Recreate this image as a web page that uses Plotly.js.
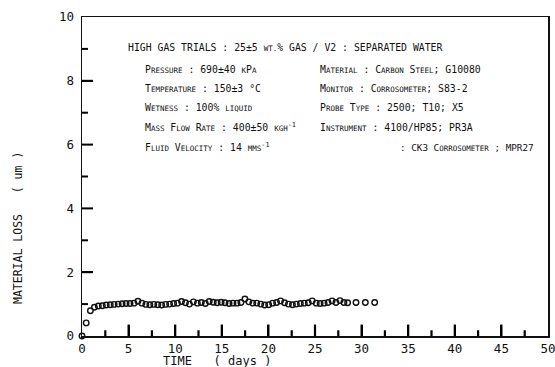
<!DOCTYPE html>
<html>
<head>
<meta charset="utf-8">
<script src="https://cdn.plot.ly/plotly-3.0.1.min.js"></script>
<style>html,body{margin:0;padding:0;background:#fff;}#chart{width:555px;height:367px;}</style>
</head>
<body>
<div id="chart"></div>
<script>
// Time (days) of each reading
const timeDays = [0, 0.45, 0.9, 1.33, 1.75, 2.18, 2.6, 3.03, 3.45, 3.88, 4.3, 4.73, 5.15, 5.58, 6.0, 6.43, 6.85, 7.28, 7.7, 8.13, 8.55, 8.98, 9.4, 9.83, 10.25, 10.68, 11.1, 11.53, 11.95, 12.38, 12.8, 13.23, 13.65, 14.08, 14.5, 14.93, 15.35, 15.78, 16.2, 16.63, 17.05, 17.48, 17.9, 18.33, 18.75, 19.18, 19.6, 20.03, 20.45, 20.88, 21.3, 21.73, 22.15, 22.58, 23.0, 23.43, 23.85, 24.28, 24.7, 25.13, 25.55, 25.98, 26.4, 26.83, 27.25, 27.68, 28.1, 28.5, 29.4, 30.4, 31.4];
// Material loss (um)
const materialLoss = [0, 0.41, 0.79, 0.9, 0.94, 0.95, 0.97, 0.98, 0.99, 1.0, 1.01, 1.02, 1.02, 1.03, 1.09, 1.03, 0.99, 0.98, 0.99, 0.98, 0.97, 0.99, 1.0, 1.02, 1.03, 1.08, 1.04, 1.0, 1.07, 1.03, 1.05, 1.02, 1.08, 1.06, 1.04, 1.06, 1.04, 1.02, 1.03, 1.03, 1.05, 1.16, 1.07, 1.03, 1.03, 1.0, 0.97, 0.98, 1.03, 1.05, 1.1, 1.04, 1.0, 0.98, 1.0, 1.02, 1.03, 1.04, 1.1, 1.03, 1.02, 1.03, 1.05, 1.1, 1.05, 1.11, 1.05, 1.04, 1.05, 1.05, 1.05];

// Tick positions
const xMajorTicks = [5, 10, 15, 20, 25, 30, 35, 40, 45];
const xMinorTicks = [2.5, 7.5, 12.5, 17.5, 22.5, 27.5, 32.5, 37.5, 42.5, 47.5];
const yMajorTicks = [2, 4, 6, 8];
const yMinorTicks = [1, 3, 5, 7, 9];

const sc = s => '<span style="font-size:7.5px">' + s + '</span>';
const headerText = 'HIGH GAS TRIALS : 25±5 ' + sc('WT.') + '% GAS / V2 : SEPARATED WATER';
const leftColumn = [
  'P' + sc('RESSURE') + ' : 690±40 ' + sc('K') + 'P' + sc('A'),
  'T' + sc('EMPERATURE') + ' : 150±3 °C',
  'W' + sc('ETNESS') + ' : 100% ' + sc('LIQUID'),
  'M' + sc('ASS') + ' F' + sc('LOW') + ' R' + sc('ATE') + ' : 400±50 ' + sc('KGH') + '<sup>-1</sup>',
  'F' + sc('LUID') + ' V' + sc('ELOCITY') + ' : 14 ' + sc('MMS') + '<sup>-1</sup>'
];
const rightColumn = [
  'M' + sc('ATERIAL') + ' : C' + sc('ARBON') + ' S' + sc('TEEL') + '; G10080',
  'M' + sc('ONITOR') + ' : C' + sc('ORROSOMETER') + '; S83-2',
  'P' + sc('ROBE') + ' T' + sc('YPE') + ' : 2500; T10; X5',
  'I' + sc('NSTRUMENT') + ' : 4100/HP85; PR3A'
];
const lastLine = ': CK3 C' + sc('ORROSOMETER') + ' ; MPR27';
const xTitle = 'TIME\u00a0\u00a0\u00a0( days )';
const yTitle = 'MATERIAL LOSS\u00a0\u00a0\u00a0( um )';

const FONT = 'DejaVu Sans Mono, Liberation Mono, monospace';
const rowY = [8.34, 7.77, 7.15, 6.55, 5.92];
const txtFont = {family: FONT, size: 9.8, color: '#111'};

const annotations = [];
annotations.push({x: 4.7, y: 9.03, xref: 'x', yref: 'y', text: headerText, showarrow: false, xanchor: 'left', yanchor: 'middle', font: txtFont});
leftColumn.forEach((t, i) => annotations.push({x: 6.55, y: rowY[i], xref: 'x', yref: 'y', text: t, showarrow: false, xanchor: 'left', yanchor: 'middle', font: txtFont}));
rightColumn.forEach((t, i) => annotations.push({x: 25.3, y: rowY[i], xref: 'x', yref: 'y', text: t, showarrow: false, xanchor: 'left', yanchor: 'middle', font: txtFont}));
annotations.push({x: 33.9, y: rowY[4], xref: 'x', yref: 'y', text: lastLine, showarrow: false, xanchor: 'left', yanchor: 'middle', font: {family: FONT, size: 9.3, color: '#111'}});
annotations.push({x: 0.289, y: -0.078, xref: 'paper', yref: 'paper', text: xTitle, showarrow: false, xanchor: 'center', yanchor: 'middle', font: {family: FONT, size: 12, color: '#111'}});
annotations.push({x: -0.137, y: 0.339, xref: 'paper', yref: 'paper', text: yTitle, showarrow: false, textangle: -90, xanchor: 'center', yanchor: 'middle', font: {family: FONT, size: 11.5, color: '#111'}});

// Inward tick marks drawn as shapes anchored on the axes
const tickLine = {color: '#000', width: 2};
const shapes = [];
yMajorTicks.forEach(t => shapes.push({type: 'line', xref: 'x', yref: 'y', y0: t, y1: t, xsizemode: 'pixel', xanchor: 0, x0: 0, x1: 11, line: tickLine, layer: 'above'}));
yMinorTicks.forEach(t => shapes.push({type: 'line', xref: 'x', yref: 'y', y0: t, y1: t, xsizemode: 'pixel', xanchor: 0, x0: 0, x1: 6, line: tickLine, layer: 'above'}));
xMajorTicks.forEach(t => shapes.push({type: 'rect', xref: 'x', yref: 'y', x0: t, x1: t, y0: 0, y1: 0.36, xsizemode: 'pixel', xanchor: t, line: {width: 0}, fillcolor: '#000', layer: 'above'}));

// Inward tick marks for the x axis drawn as short line segments (null-separated)
const segX = [], segY = [];
xMajorTicks.forEach(t => { segX.push(t, t, null); segY.push(0, 0.36, null); });
xMinorTicks.forEach(t => { segX.push(t, t, null); segY.push(0, 0.18, null); });
const tickTrace = {
  x: segX, y: segY, type: 'scatter', mode: 'lines',
  line: {color: '#000', width: 2.2}, hoverinfo: 'skip', connectgaps: false
};

const trace = {
  x: timeDays, y: materialLoss, type: 'scatter', mode: 'markers',
  marker: {symbol: 'circle-open', size: 5.5, color: '#111', line: {width: 1.4, color: '#111'}},
  cliponaxis: false, hoverinfo: 'skip'
};

const layout = {
  width: 555, height: 367,
  margin: {l: 82, r: 7, t: 17, b: 31, pad: 0},
  paper_bgcolor: '#fff', plot_bgcolor: '#fff',
  showlegend: false,
  font: {family: FONT, size: 12, color: '#111'},
  xaxis: {
    range: [0, 50], showgrid: false, zeroline: false,
    showline: true, linecolor: '#111', linewidth: 1.5, mirror: true,
    tickmode: 'linear', tick0: 0, dtick: 5,
    ticks: 'inside', ticklen: 11, tickwidth: 2, tickcolor: '#000',
    ticklabeloverflow: 'allow',
    tickfont: {family: FONT, size: 12.5, color: '#111'}
  },
  yaxis: {
    range: [0, 10], showgrid: false, zeroline: false,
    showline: true, linecolor: '#111', linewidth: 1.5, mirror: true,
    tickmode: 'linear', tick0: 0, dtick: 2,
    ticks: 'inside', ticklen: 11, tickwidth: 1.5, tickcolor: '#111',
    ticklabeloverflow: 'allow', ticklabelstandoff: 4,
    tickfont: {family: FONT, size: 12.5, color: '#111'}
  },
  shapes: shapes,
  annotations: annotations
};

Plotly.newPlot('chart', [tickTrace, trace], layout, {staticPlot: true, displayModeBar: false});
</script>
</body>
</html>
